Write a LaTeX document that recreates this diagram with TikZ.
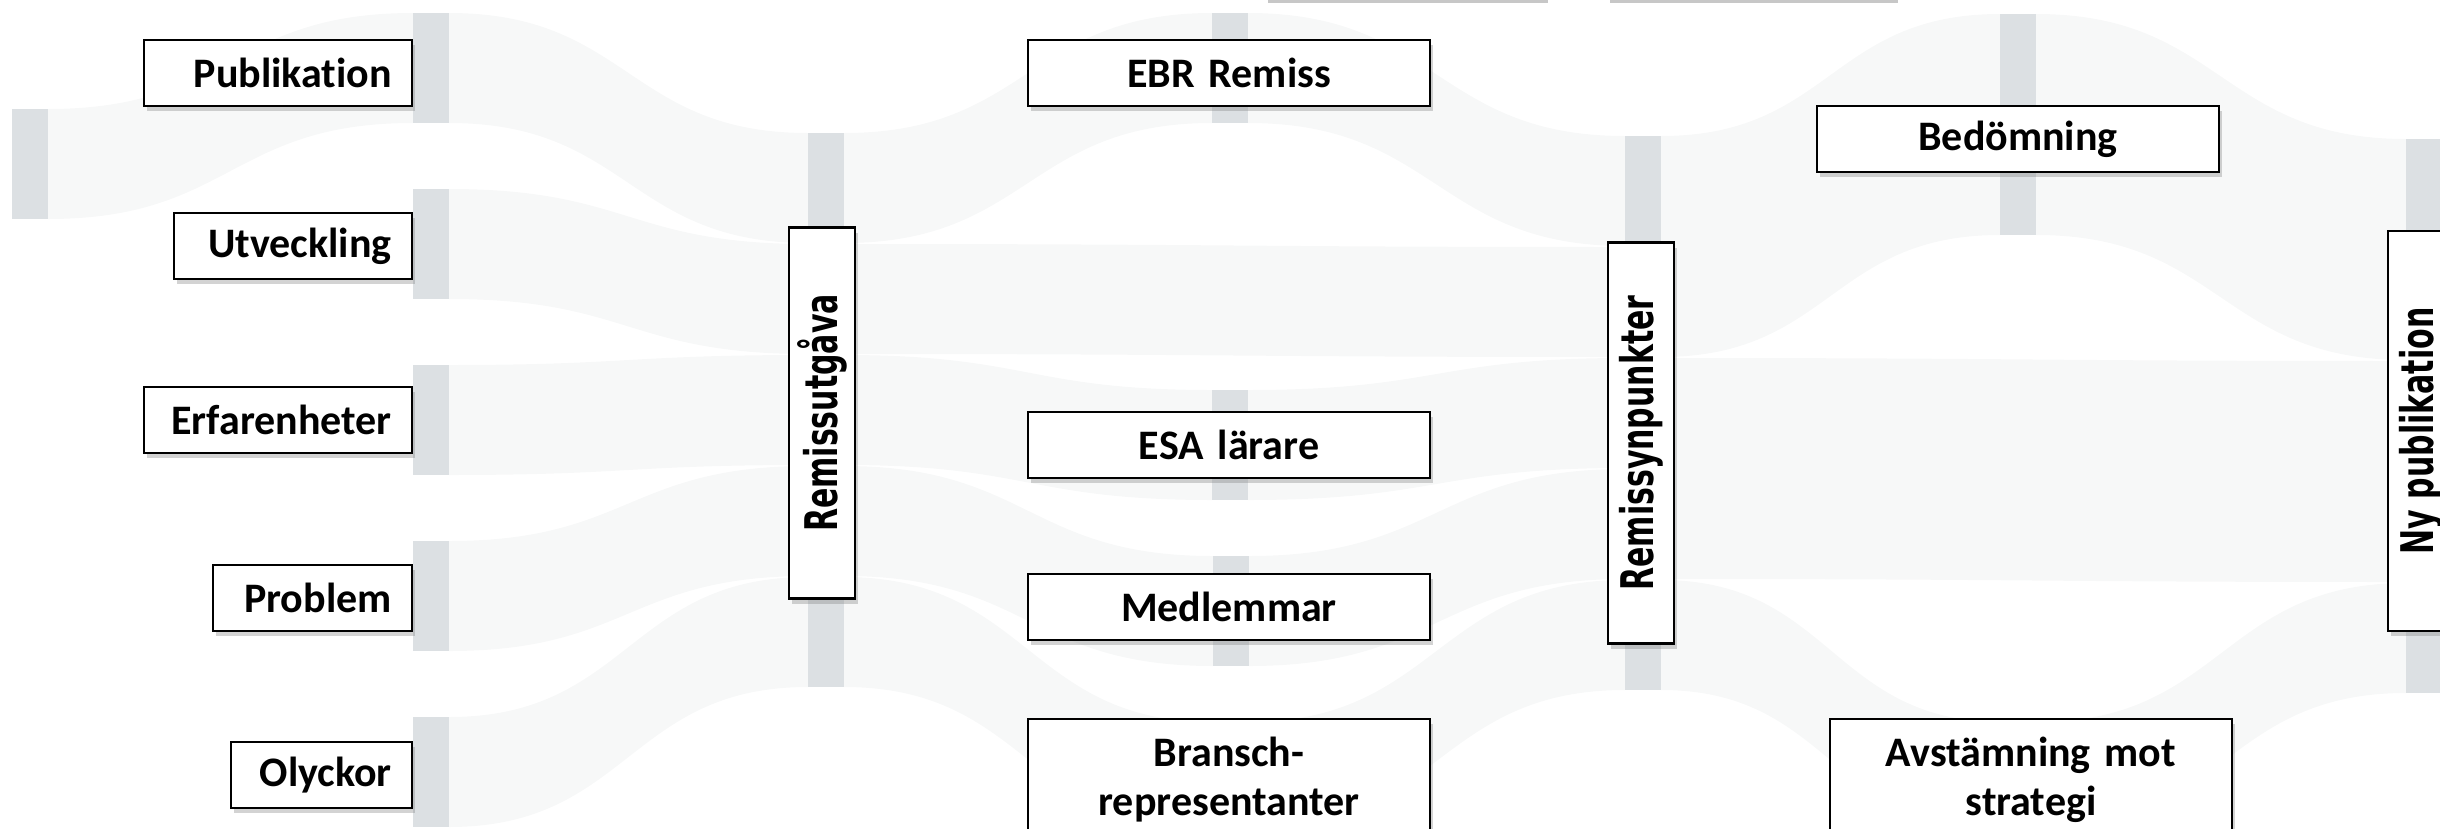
\documentclass[tikz,border=0pt]{standalone}
\usepackage{fontspec}
\setmainfont[Ligatures=NoCommon]{Carlito}
\newfontfamily\vertfont{DejaVu Sans}
\usetikzlibrary{calc,shadows}
\pgfdeclarelayer{background}
\pgfsetlayers{background,main}
\definecolor{barcol}{RGB}{220,224,227}
\definecolor{flowcol}{RGB}{247,248,248}
\newcommand{\vtext}[1]{\rotatebox{90}{\scalebox{1}[1.5]{#1}}}

\begin{document}
\begin{tikzpicture}[x=1pt,y=-1pt,
                    font=\fontsize{42}{49}\selectfont\bfseries]
  \tikzstyle{bar}=[fill=barcol,draw=none,minimum width=36,inner sep=0,outer sep=0]
  \tikzstyle{lbox}=[draw,fill=white,line width=2.5pt,inner xsep=20,inner ysep=0,
                    minimum height=66,
                    drop shadow={shadow xshift=3pt,shadow yshift=-5pt,opacity=0.35}]
  \tikzstyle{vbox}=[lbox,minimum width=66,inner sep=0,
                    font=\vertfont\fontsize{30}{35}\selectfont\bfseries]
  \useasboundingbox (0,0) rectangle (2440,828);

  \node[bar,minimum height=110] (srcbar)  at (30,164)   {};
  \node[bar,minimum height=110] (pubbar)  at (431,68)   {};
  \node[bar,minimum height=110] (utvbar)  at (431,244)  {};
  \node[bar,minimum height=110] (erfbar)  at (431,420)  {};
  \node[bar,minimum height=110] (probbar) at (431,596)  {};
  \node[bar,minimum height=110] (olybar)  at (431,772)  {};
  \node[bar,minimum height=554] (utgbar)  at (826,410)  {};
  \node[bar,minimum height=110] (ebrbar)  at (1230,68)  {};
  \node[bar,minimum height=110] (esabar)  at (1230,445) {};
  \node[bar,minimum height=110] (medbar)  at (1231,611) {};
  \node[bar,minimum height=110] (brabar)  at (1230,777) {};
  \node[bar,minimum height=554] (synbar)  at (1643,413) {};
  \node[bar,minimum height=221] (bedbar)  at (2018,124.5) {};
  \node[bar,minimum height=110] (avsbar)  at (2020,777) {};
  \node[bar,minimum height=554] (nybar)   at (2424,416) {};

  \begin{pgfonlayer}{background}
  \foreach \a/\sa/\b/\sb/\w in {srcbar/0/pubbar/0/110, pubbar/0/utgbar/0/110,
      utvbar/0/utgbar/111/110, erfbar/0/utgbar/222/110, probbar/0/utgbar/333/110,
      olybar/0/utgbar/444/110, utgbar/0/ebrbar/0/110, utgbar/111/synbar/111/110,
      utgbar/222/esabar/0/110, utgbar/333/medbar/0/110, utgbar/444/brabar/0/110,
      ebrbar/0/synbar/0/110, esabar/0/synbar/222/110, medbar/0/synbar/333/110,
      brabar/0/synbar/444/110, synbar/0/bedbar/0/221, synbar/222/nybar/222/221,
      synbar/444/avsbar/0/110, bedbar/0/nybar/0/221, avsbar/0/nybar/444/110}
    \fill[flowcol] let \p1=($(\a.north east)+(0,\sa)$), \p2=($(\b.north west)+(0,\sb)$),
        \p3=($(\p1)+(0,\w)$), \p4=($(\p2)+(0,\w)$), \n1={0.5*\x1+0.5*\x2} in
      (\p1) .. controls (\n1,\y1) and (\n1,\y2) .. (\p2) -- (\p4)
      .. controls (\n1,\y4) and (\n1,\y3) .. (\p3) -- cycle;
  \end{pgfonlayer}

  \fill[black!22] (1268,0) rectangle (1548,2.5);
  \fill[black!22] (1610,0) rectangle (1898,2.5);

  \node[lbox,anchor=east,text width=228,align=right] (pub)  at (413,73)  {Publikation};
  \node[lbox,anchor=east,text width=198,align=right] (utv)  at (413,246) {Utveckling};
  \node[lbox,anchor=east,text width=228,align=right] (erf)  at (413,420) {Erfarenheter};
  \node[lbox,anchor=east,text width=159,align=right] (prob) at (413,598) {Problem};
  \node[lbox,anchor=east,text width=141,align=right] (oly)  at (413,775) {Olyckor};

  \node[vbox,minimum height=371] (utg) at (822,413) {\vtext{Remissutgåva}};

  \node[lbox,text width=362,align=center] (ebr) at (1229,73)  {EBR Remiss};
  \node[lbox,text width=362,align=center] (esa) at (1229,445) {ESA lärare};
  \node[lbox,text width=362,align=center] (med) at (1229,607) {Medlemmar};
  \node[lbox,text width=362,align=center,minimum height=122] (bra) at (1229,780)
       {Bransch-\\representanter};

  \node[vbox,minimum height=401] (syn) at (1641,443) {\vtext{Remissynpunkter}};

  \node[lbox,text width=362,align=center] (bed) at (2018,139) {Bedömning};
  \node[lbox,text width=362,align=center,minimum height=122] (avs) at (2031,780)
       {Avstämning mot\\strategi};

  \node[vbox,minimum height=400] (ny) at (2421,431) {\vtext{Ny publikation}};
\end{tikzpicture}
\end{document}
